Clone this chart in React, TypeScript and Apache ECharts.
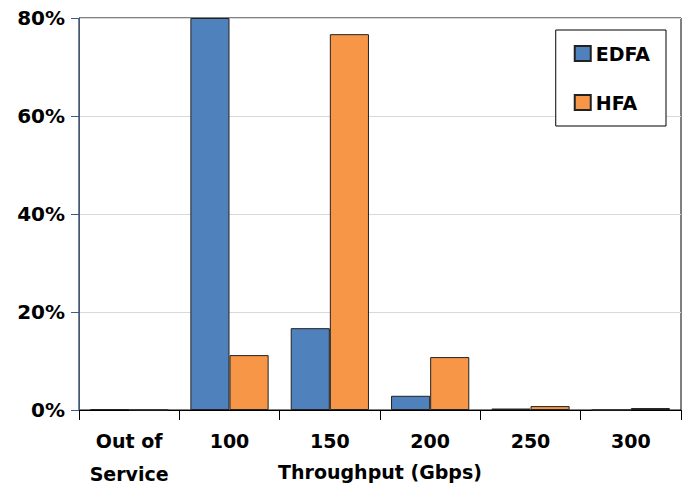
import React, { useEffect, useRef } from "react";
import * as echarts from "echarts";

const categories = ["Out of\nService", "100", "150", "200", "250", "300"];
const edfaValues = [0.2, 80, 16.7, 2.9, 0.3, 0];
const hfaValues = [0, 11.2, 76.7, 10.8, 0.8, 0.4];
const seriesNames = ["EDFA", "HFA"];
const yTicks = { min: 0, max: 80, interval: 20 };
const xAxisTitle = "Throughput (Gbps)";

const FONT = "'DejaVu Sans', Verdana, sans-serif";

export default function App() {
  const ref = useRef<HTMLDivElement>(null);
  useEffect(() => {
    if (!ref.current) return;
    const chart = echarts.init(ref.current, undefined, { renderer: "svg" });
    chart.setOption({
      animation: false,
      backgroundColor: "#ffffff",
      textStyle: { fontFamily: FONT },
      grid: {
        left: 79,
        right: 5,
        top: 18,
        bottom: 77,
        show: true,
        borderColor: "#000000",
        borderWidth: 1,
        containLabel: false,
        outerBoundsMode: "none",
      },
      legend: {
        orient: "vertical",
        right: 20,
        top: 30,
        data: seriesNames,
        icon: "rect",
        itemWidth: 16,
        itemHeight: 15,
        itemGap: 30,
        padding: [14, 16, 14, 18],
        borderColor: "#000000",
        borderWidth: 1,
        backgroundColor: "#ffffff",
        textStyle: { fontFamily: FONT, fontWeight: "bold", fontSize: 19, color: "#000" },
      },
      xAxis: {
        type: "category",
        data: categories,
        name: xAxisTitle,
        nameLocation: "middle",
        nameGap: 52,
        nameMoveOverlap: false,
        nameTextStyle: { fontFamily: FONT, fontWeight: "bold", fontSize: 19, color: "#000" },
        axisLine: { lineStyle: { color: "#000000", width: 1 } },
        axisTick: { show: true, length: 10, lineStyle: { color: "#000" }, interval: 0 },
        axisLabel: {
          interval: 0,
          margin: 14,
          fontFamily: FONT,
          fontWeight: "bold",
          fontSize: 19,
          lineHeight: 33,
          color: "#000",
        },
        splitLine: { show: false },
      },
      yAxis: {
        type: "value",
        min: yTicks.min,
        max: yTicks.max,
        interval: yTicks.interval,
        axisLine: { show: true, lineStyle: { color: "#3a5b8c", width: 1 } },
        axisTick: { show: true, length: 8, lineStyle: { color: "#3a5b8c" } },
        axisLabel: {
          formatter: "{value}%",
          margin: 14,
          fontFamily: FONT,
          fontWeight: "bold",
          fontSize: 20,
          color: "#000",
        },
        splitLine: { show: true, lineStyle: { color: "#d9d9d9", width: 1 } },
      },
      series: [
        {
          name: seriesNames[0],
          type: "bar",
          data: edfaValues,
          barGap: "0%",
          barCategoryGap: "22%",
          clip: true,
          itemStyle: { color: "#4f81bd", borderColor: "#222222", borderWidth: 1 },
        },
        {
          name: seriesNames[1],
          type: "bar",
          data: hfaValues,
          barGap: "0%",
          barCategoryGap: "22%",
          clip: true,
          itemStyle: { color: "#f79646", borderColor: "#222222", borderWidth: 1 },
        },
      ],
    });
    return () => chart.dispose();
  }, []);
  return (
    <div
      ref={ref}
      style={{ position: "fixed", left: 0, top: 0, width: 686, height: 487 }}
    />
  );
}
